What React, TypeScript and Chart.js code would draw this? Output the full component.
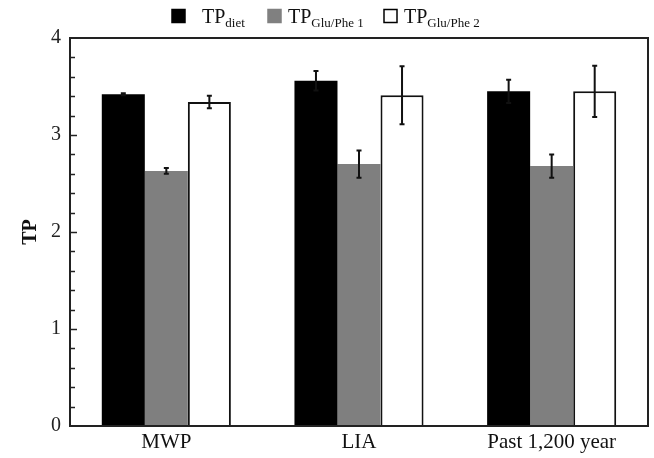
import React, { useEffect, useRef } from "react";
import { Chart, registerables } from "chart.js";

Chart.register(...registerables);

const categories = ["MWP", "LIA", "Past 1,200 year"];
const tpDiet = [3.42, 3.56, 3.45];
const tpDietErr = [0.01, 0.1, 0.12];
const tpGluPhe1 = [2.63, 2.7, 2.68];
const tpGluPhe1Err = [0.03, 0.14, 0.12];
const tpGluPhe2 = [3.34, 3.41, 3.45];
const tpGluPhe2Err = [0.065, 0.3, 0.265];
const yTicks = [0, 1, 2, 3, 4];
const minorStep = 0.2;

const legendItems = [
  { main: "TP", sub: "diet", fill: "#000000", stroke: "#000000" },
  { main: "TP", sub: "Glu/Phe 1", fill: "#808080", stroke: "#808080" },
  { main: "TP", sub: "Glu/Phe 2", fill: "#ffffff", stroke: "#000000" },
];
const legendX = [172, 268, 384];

const SERIF = "'Liberation Serif', 'Times New Roman', serif";

const errors = [tpDietErr, tpGluPhe1Err, tpGluPhe2Err];

const framePlugin = {
  id: "frameTicksErr",
  afterDatasetsDraw(chart: any) {
    const { ctx, chartArea, scales } = chart;
    const y = scales.y;
    ctx.save();
    // error bars
    ctx.strokeStyle = "#111";
    ctx.lineWidth = 2;
    chart.data.datasets.forEach((ds: any, di: number) => {
      const meta = chart.getDatasetMeta(di);
      meta.data.forEach((bar: any, i: number) => {
        const v = ds.data[i];
        const e = errors[di][i];
        const x = bar.x;
        const yt = y.getPixelForValue(v + e);
        const yb = y.getPixelForValue(v - e);
        ctx.beginPath();
        ctx.moveTo(x, yt);
        ctx.lineTo(x, yb);
        ctx.moveTo(x - 2.5, yt);
        ctx.lineTo(x + 2.5, yt);
        ctx.moveTo(x - 2.5, yb);
        ctx.lineTo(x + 2.5, yb);
        ctx.stroke();
      });
    });
    // frame
    ctx.strokeStyle = "#222";
    ctx.lineWidth = 2;
    ctx.strokeRect(chartArea.left, chartArea.top, chartArea.right - chartArea.left, chartArea.bottom - chartArea.top);
    // inward ticks
    ctx.lineWidth = 1.5;
    const max = yTicks[yTicks.length - 1];
    const n = Math.round(max / minorStep);
    for (let k = 1; k < n; k++) {
      const val = k * minorStep;
      const py = Math.round(y.getPixelForValue(val)) + 0.5;
      const major = k % 5 === 0;
      ctx.beginPath();
      ctx.moveTo(chartArea.left, py);
      ctx.lineTo(chartArea.left + (major ? 7 : 5), py);
      ctx.stroke();
    }
    ctx.restore();
  },
  afterDraw(chart: any) {
    const { ctx } = chart;
    ctx.save();
    legendItems.forEach((it, i) => {
      const x0 = legendX[i];
      ctx.fillStyle = it.fill;
      ctx.fillRect(x0, 9.5, 13, 13);
      ctx.strokeStyle = it.stroke;
      ctx.lineWidth = 1.5;
      ctx.strokeRect(x0, 9.5, 13, 13);
      ctx.fillStyle = "#111";
      ctx.textBaseline = "alphabetic";
      ctx.textAlign = "left";
      ctx.font = `20px ${SERIF}`;
      const tx = x0 + 30 - (i === 0 ? 0 : 10);
      ctx.fillText(it.main, tx, 23);
      const w = ctx.measureText(it.main).width;
      ctx.font = `13px ${SERIF}`;
      ctx.fillText(it.sub, tx + w, 27);
    });
    ctx.restore();
  },
};

export default function App() {
  const ref = useRef<HTMLCanvasElement | null>(null);
  useEffect(() => {
    if (!ref.current) return;
    const chart = new Chart(ref.current, {
      type: "bar",
      data: {
        labels: categories,
        datasets: [
          { label: "TPdiet", data: tpDiet, backgroundColor: "#000000", borderColor: "#000000", borderWidth: 0 },
          { label: "TPGlu/Phe 1", data: tpGluPhe1, backgroundColor: "#7f7f7f", borderColor: "#7f7f7f", borderWidth: 0 },
          { label: "TPGlu/Phe 2", data: tpGluPhe2, backgroundColor: "#ffffff", borderColor: "#111111", borderWidth: 2 },
        ],
      },
      options: {
        animation: false,
        responsive: true,
        maintainAspectRatio: false,
        layout: { padding: { top: 38, right: 6, left: 0, bottom: 0 } },
        datasets: { bar: { categoryPercentage: 0.67, barPercentage: 1.0 } },
        plugins: { legend: { display: false }, tooltip: { enabled: false } },
        scales: {
          x: {
            grid: { display: false, drawTicks: false },
            border: { display: false },
            ticks: { color: "#111", font: { family: SERIF, size: 21 }, padding: 4 },
            afterFit: (s: any) => { s.height = 32; },
          },
          y: {
            min: 0,
            max: 4,
            grid: { display: false, drawTicks: false },
            border: { display: false },
            ticks: { stepSize: 1, color: "#222", font: { family: SERIF, size: 20 }, padding: 9 },
            title: { display: true, text: "TP", color: "#111", font: { family: SERIF, size: 20, weight: "bold" }, padding: { top: 19, bottom: 0 } },
            afterFit: (s: any) => { s.width = 70; },
          },
        },
      },
      plugins: [framePlugin],
    });
    return () => chart.destroy();
  }, []);
  return (
    <div style={{ position: "fixed", left: 0, top: 0, width: 654, height: 458, background: "#fff" }}>
      <canvas ref={ref} />
    </div>
  );
}
